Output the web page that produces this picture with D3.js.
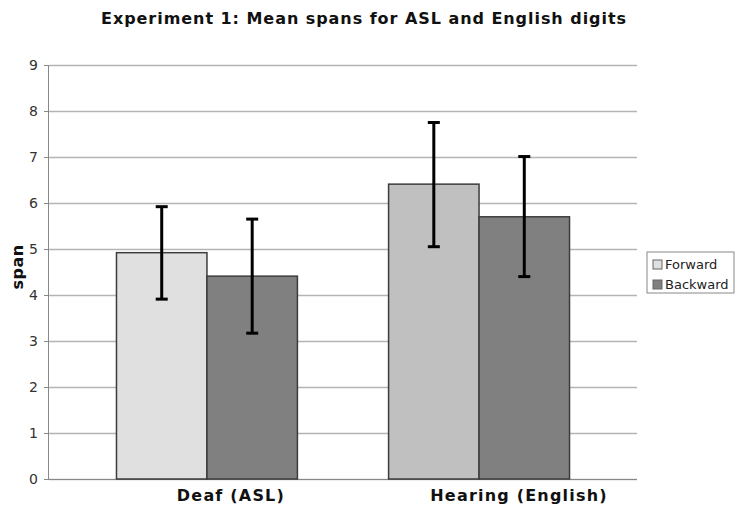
<!DOCTYPE html>
<html>
<head>
<meta charset="utf-8">
<script src="https://cdn.jsdelivr.net/npm/d3@7"></script>
<style>
  body { margin: 0; background: #fff; }
  svg { font-family: "DejaVu Sans", Verdana, sans-serif; }
</style>
</head>
<body>
<svg id="chart" width="750" height="511"></svg>
<script>
// data
const groups = ["Deaf (ASL)", "Hearing (English)"];
const series = ["Forward", "Backward"];
const means = [[4.92, 4.41], [6.41, 5.70]];
const errLow = [[3.91, 3.17], [5.05, 4.40]];
const errHigh = [[5.92, 5.65], [7.75, 7.01]];
const yTicks = [0, 1, 2, 3, 4, 5, 6, 7, 8, 9];

const svg = d3.select("#chart");
const margin = {top: 65, right: 113, bottom: 32, left: 49};
const width = 750 - margin.left - margin.right,
      height = 511 - margin.top - margin.bottom;

// fill per group/series (forward bar is lighter for the deaf group)
const fills = [["#e0e0e0", "#808080"], ["#c0c0c0", "#808080"]];

const g = svg.append("g")
    .attr("transform", `translate(${margin.left},${margin.top})`);

const y = d3.scaleLinear().domain([0, 9]).range([height, 0]);

const x0 = d3.scaleBand()
    .domain(groups)
    .range([0, width])
    .paddingInner(0.335)
    .paddingOuter(0.248);

const x1 = d3.scaleBand()
    .domain(series)
    .range([0, x0.bandwidth()]);

// gridlines
g.append("g")
    .call(d3.axisLeft(y).tickValues(yTicks).tickSize(-width).tickFormat(""))
    .call(a => a.select(".domain").remove())
    .call(a => a.selectAll(".tick line").attr("stroke", "#b4b4b4").attr("stroke-width", 1.3));

// left axis
g.append("g")
    .call(d3.axisLeft(y).tickValues(yTicks).tickSize(5).tickPadding(6))
    .call(a => a.select(".domain").attr("stroke", "#888").attr("d", `M-0.5,${height}V0`))
    .call(a => a.selectAll(".tick line").attr("stroke", "#888"))
    .call(a => a.selectAll(".tick text")
        .attr("font-size", "14px")
        .attr("fill", "#333")
        .attr("font-family", "DejaVu Sans, Verdana, sans-serif"));

// bottom axis line
g.append("line")
    .attr("x1", 0).attr("x2", width)
    .attr("y1", height + 0.5).attr("y2", height + 0.5)
    .attr("stroke", "#888").attr("stroke-width", 1.2);

// bars
const grp = g.selectAll(".grp")
    .data(groups)
    .join("g")
    .attr("class", "grp")
    .attr("transform", d => `translate(${x0(d)},0)`);

grp.each(function(gName, gi) {
    const sel = d3.select(this);
    series.forEach((s, si) => {
        sel.append("rect")
            .attr("x", x1(s))
            .attr("y", y(means[gi][si]))
            .attr("width", x1.bandwidth())
            .attr("height", height - y(means[gi][si]))
            .attr("fill", fills[gi][si])
            .attr("stroke", "#3c3c3c")
            .attr("stroke-width", 1.5);
    });
});

// error bars
grp.each(function(gName, gi) {
    const sel = d3.select(this);
    series.forEach((s, si) => {
        const cx = x1(s) + x1.bandwidth() / 2;
        const eb = sel.append("g").attr("stroke", "#000").attr("stroke-width", 3);
        eb.append("line")
            .attr("x1", cx).attr("x2", cx)
            .attr("y1", y(errLow[gi][si])).attr("y2", y(errHigh[gi][si]));
        eb.append("line")
            .attr("x1", cx - 6).attr("x2", cx + 6)
            .attr("y1", y(errLow[gi][si])).attr("y2", y(errLow[gi][si]));
        eb.append("line")
            .attr("x1", cx - 6).attr("x2", cx + 6)
            .attr("y1", y(errHigh[gi][si])).attr("y2", y(errHigh[gi][si]));
    });
});

// category labels (sit a little right of the bar pairs in the original)
const labelShift = [24, 40];
g.selectAll(".cat")
    .data(groups)
    .join("text")
    .attr("class", "cat")
    .attr("x", (d, i) => x0(d) + x0.bandwidth() / 2 + labelShift[i])
    .attr("y", height + 22)
    .attr("text-anchor", "middle")
    .attr("font-size", "16px")
    .attr("letter-spacing", "1.2px")
    .attr("font-weight", "bold")
    .attr("fill", "#111")
    .text(d => d);

// title
svg.append("text")
    .attr("x", 364)
    .attr("y", 24)
    .attr("text-anchor", "middle")
    .attr("font-size", "16px")
    .attr("letter-spacing", "0.95px")
    .attr("font-weight", "bold")
    .attr("fill", "#111")
    .text("Experiment 1: Mean spans for ASL and English digits");

// y label
svg.append("text")
    .attr("transform", `translate(23,${margin.top + height / 2 - 5}) rotate(-90)`)
    .attr("text-anchor", "middle")
    .attr("font-size", "16px")
    .attr("letter-spacing", "0.5px")
    .attr("font-weight", "bold")
    .attr("fill", "#111")
    .text("span");

// legend
const legend = svg.append("g").attr("transform", "translate(647,252)");
legend.append("rect")
    .attr("width", 87).attr("height", 41)
    .attr("fill", "#fff").attr("stroke", "#888").attr("stroke-width", 1);
series.forEach((s, i) => {
    legend.append("rect")
        .attr("x", 6).attr("y", 8 + i * 20)
        .attr("width", 9).attr("height", 9)
        .attr("fill", fills[0][i])
        .attr("stroke", "#666");
    legend.append("text")
        .attr("x", 18).attr("y", 17 + i * 20)
        .attr("font-size", "13px")
        .attr("fill", "#222")
        .text(s);
});
</script>
</body>
</html>
